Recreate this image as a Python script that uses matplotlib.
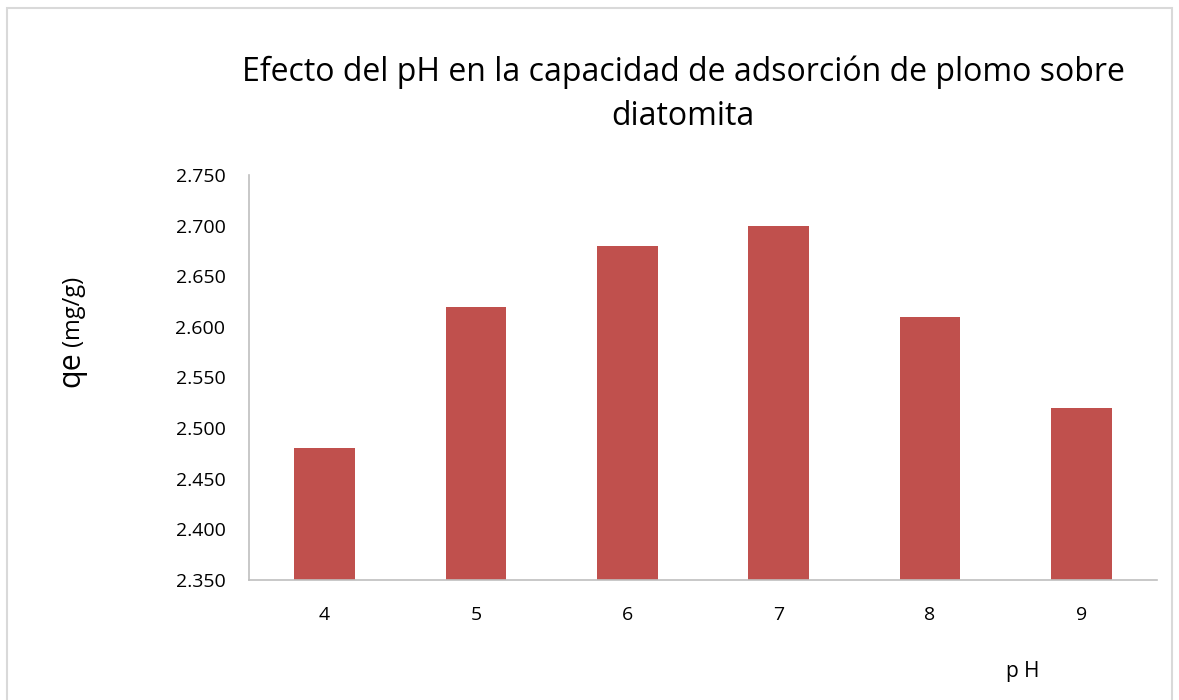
import matplotlib
matplotlib.use("Agg")
import matplotlib.pyplot as plt
from matplotlib.patches import Rectangle
import numpy as np

categories = ["4", "5", "6", "7", "8", "9"]
qe_values = [2.48, 2.62, 2.68, 2.70, 2.61, 2.52]
ytick_values = [2.350, 2.400, 2.450, 2.500, 2.550, 2.600, 2.650, 2.700, 2.750]

plt.rcParams['font.family'] = ['Open Sans', 'DejaVu Sans']

W, H = 1179, 700
fig = plt.figure(figsize=(W/100, H/100), dpi=100)
fig.patch.set_facecolor('white')

# outer border
fig.add_artist(Rectangle((7/W, -0.01), (1172-7)/W, (700-8)/H + 0.01, transform=fig.transFigure,
                         fill=False, edgecolor='#d9d9d9', linewidth=1.5))

ax = fig.add_axes([249/W, 1-580/H, (1157-249)/W, (580-175)/H])
x = np.arange(len(categories))
ax.bar(x, qe_values, width=0.4, color='#C0504D', zorder=2)
ax.set_xlim(-0.5, len(categories)-0.5)
ax.set_ylim(2.35, 2.75)
ax.set_yticks(ytick_values)
ax.set_yticklabels([f"{v:.3f}" for v in ytick_values])
ax.set_xticks(x)
ax.set_xticklabels(categories)
ax.tick_params(axis='both', length=0, labelsize=14, colors='black')
ax.tick_params(axis='y', pad=17)
ax.tick_params(axis='x', pad=19)
for s in ['top', 'right']:
    ax.spines[s].set_visible(False)
for s in ['left', 'bottom']:
    ax.spines[s].set_color('#bfbfbf')
    ax.spines[s].set_linewidth(1.2)

fig.text(683/W, 1-94/H, "Efecto del pH en la capacidad de adsorción de plomo sobre\ndiatomita",
         ha='center', va='center', fontsize=23, linespacing=1.45)

fig.text(79/W, 1-387/H, "qe", rotation=90, rotation_mode='anchor', ha='left', va='baseline',
         fontsize=22)
fig.text(79/W, 1-346/H, "(mg/g)", rotation=90, rotation_mode='anchor', ha='left', va='baseline',
         fontsize=17)

fig.text(1023/W, 1-672/H, "p H", ha='center', va='center', fontsize=15)

fig.savefig("out.png", dpi=100)
